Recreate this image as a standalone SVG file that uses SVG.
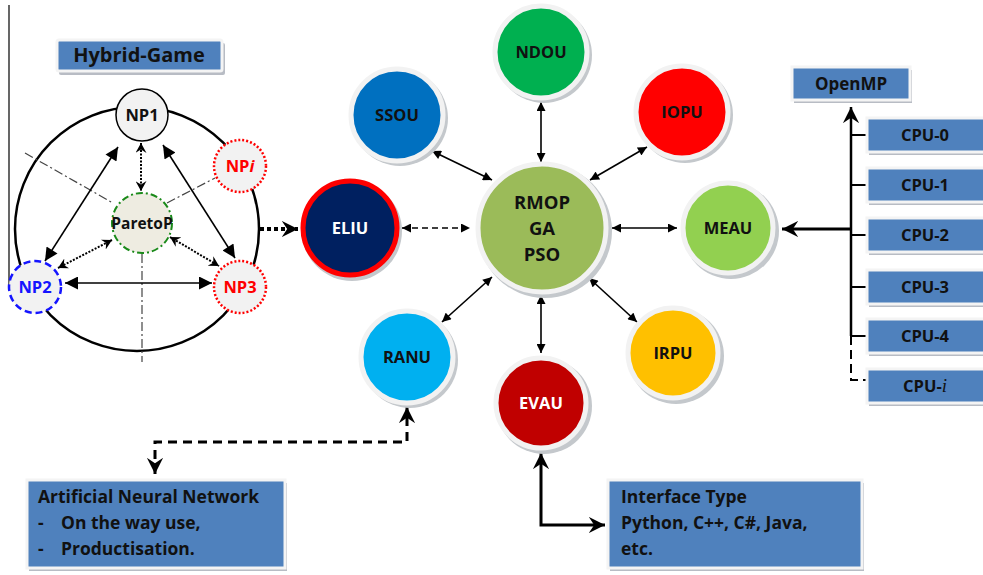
<svg xmlns="http://www.w3.org/2000/svg" width="983" height="575" viewBox="0 0 983 575">
<defs>
<marker id="fa" viewBox="0 0 10 10" refX="10" refY="5" markerWidth="10" markerHeight="9" markerUnits="userSpaceOnUse" orient="auto-start-reverse"><path d="M0,0 L10,5 L0,10 z" fill="#000"/></marker>
<marker id="fb" viewBox="0 0 10 10" refX="10" refY="5" markerWidth="15" markerHeight="13" markerUnits="userSpaceOnUse" orient="auto-start-reverse"><path d="M0,0 L10,5 L0,10 z" fill="#000"/></marker>
<marker id="ov" viewBox="0 0 10 10" refX="9" refY="5" markerWidth="11" markerHeight="11" markerUnits="userSpaceOnUse" orient="auto-start-reverse"><path d="M0,0 L9,5 L0,10 L3,5 z" fill="#000"/></marker>
<marker id="ob" viewBox="0 0 10 10" refX="9" refY="5" markerWidth="18" markerHeight="18" markerUnits="userSpaceOnUse" orient="auto-start-reverse"><path d="M0,0.5 L9,5 L0,9.5 L3,5 z" fill="#000"/></marker>
</defs>
<style>
text{font-family:"Open Sans","Liberation Sans",sans-serif;font-weight:bold;}
.lbl{font-size:16.5px;text-anchor:middle;fill:#111;}
.box{fill:#4F81BD;stroke:#f4f4f4;stroke-width:3;}
.shd{fill:#b8bcc4;}
.ring{stroke:#f2f2f2;stroke-width:5;}
.cshd{fill:#c4c8cc;}
.btx{font-size:17.5px;fill:#111;}
.ln{stroke:#000;stroke-width:1.6;fill:none;}
.np{fill:#f2f2f2;}
.dd{stroke:#444;stroke-width:1.2;stroke-dasharray:9,3,2,3;fill:none;}
</style>
<rect width="983" height="575" fill="#fff"/>
<line x1="9" y1="5" x2="9" y2="290" stroke="#000" stroke-width="1.2"/>

<g id="hybrid-game">
<rect class="shd" x="59" y="43" width="166" height="32" rx="2"/>
<rect class="box" x="57" y="40" width="165" height="31" rx="2"/>
<text x="139" y="62" class="lbl" style="font-size:20px">Hybrid-Game</text>
</g>

<g id="game-circle">
<circle cx="137" cy="229" r="122" fill="none" stroke="#000" stroke-width="2.5"/>
<line class="dd" x1="25" y1="153" x2="113" y2="203"/>
<line class="dd" x1="167" y1="203" x2="215" y2="178"/>
<line class="dd" x1="142" y1="254" x2="142" y2="362"/>
</g>

<g id="connectors-hybrid">
<line class="ln" x1="118" y1="147" x2="45" y2="261" marker-start="url(#fb)" marker-end="url(#fb)"/>
<line class="ln" x1="163" y1="145" x2="235" y2="258" marker-start="url(#fb)" marker-end="url(#fb)"/>
<line class="ln" x1="65" y1="283" x2="212" y2="283" marker-start="url(#fb)" marker-end="url(#fb)"/>
<line x1="141" y1="143" x2="141" y2="191" stroke="#000" stroke-width="2" stroke-dasharray="2,1.5" marker-start="url(#ov)" marker-end="url(#ov)"/>
<line x1="112" y1="240" x2="58" y2="268" stroke="#000" stroke-width="2" stroke-dasharray="2,1.5" marker-start="url(#ov)" marker-end="url(#ov)"/>
<line x1="170" y1="237" x2="219" y2="266" stroke="#000" stroke-width="2" stroke-dasharray="2,1.5" marker-start="url(#ov)" marker-end="url(#ov)"/>
<line x1="260" y1="229" x2="298" y2="229" stroke="#000" stroke-width="4" stroke-dasharray="4,3" marker-end="url(#ob)"/>
</g>

<g id="np1"><circle class="np" cx="142" cy="115" r="26" stroke="#000" stroke-width="1.5"/><text class="lbl" x="142" y="121">NP1</text></g>
<g id="npi"><circle class="np" cx="240" cy="166" r="26" stroke="#f00" stroke-width="2.5" stroke-dasharray="2,2"/><text class="lbl" x="240" y="172" style="fill:#f00">NP<tspan font-style="italic">i</tspan></text></g>
<g id="paretop"><circle cx="142" cy="223" r="30" fill="#EEECE1" stroke="#1a8a1a" stroke-width="2" stroke-dasharray="7,3,2,3"/><text class="lbl" x="142" y="229" style="font-size:15.5px">ParetoP</text></g>
<g id="np2"><circle class="np" cx="35" cy="287" r="26" stroke="#1515ff" stroke-width="2.5" stroke-dasharray="7,4"/><text class="lbl" x="35" y="293" style="fill:#1515ff">NP2</text></g>
<g id="np3"><circle class="np" cx="240" cy="287" r="26" stroke="#f00" stroke-width="2.5" stroke-dasharray="2,2"/><text class="lbl" x="240" y="293" style="fill:#f00">NP3</text></g>

<g id="connectors">
<line class="ln" stroke-width="1.4" x1="432" y1="151" x2="492" y2="180" marker-start="url(#fa)" marker-end="url(#fa)"/>
<line class="ln" stroke-width="1.4" x1="541" y1="102" x2="541" y2="162" marker-start="url(#fa)" marker-end="url(#fa)"/>
<line class="ln" stroke-width="1.4" x1="647" y1="147" x2="590" y2="180" marker-start="url(#fa)" marker-end="url(#fa)"/>
<line class="ln" stroke-width="1.4" x1="402" y1="228" x2="470" y2="228" stroke-dasharray="6,4" marker-start="url(#fa)" marker-end="url(#fa)"/>
<line class="ln" stroke-width="1.4" x1="612" y1="228" x2="677" y2="228" marker-start="url(#fa)" marker-end="url(#fa)"/>
<line class="ln" stroke-width="1.4" x1="492" y1="277" x2="442" y2="322" marker-start="url(#fa)" marker-end="url(#fa)"/>
<line class="ln" stroke-width="1.4" x1="541" y1="295" x2="541" y2="353" marker-start="url(#fa)" marker-end="url(#fa)"/>
<line class="ln" stroke-width="1.4" x1="589" y1="278" x2="637" y2="322" marker-start="url(#fa)" marker-end="url(#fa)"/>
<path d="M851,107 V336" stroke="#000" stroke-width="2.5" fill="none" marker-start="url(#ob)"/>
<path d="M851,336 V380 H866" stroke="#000" stroke-width="2" fill="none" stroke-dasharray="9,5"/>
<path d="M851,135 H866 M851,185 H866 M851,235 H866 M851,287 H866 M851,336 H866" stroke="#000" stroke-width="2" fill="none"/>
<line x1="851" y1="229" x2="782" y2="229" stroke="#000" stroke-width="3" marker-end="url(#ob)"/>
<path d="M155,474 V442 H407 V407" stroke="#000" stroke-width="3" fill="none" stroke-dasharray="9,6" marker-start="url(#ob)" marker-end="url(#ob)"/>
<path d="M541,453 V525 H605" stroke="#000" stroke-width="3" fill="none" marker-start="url(#ob)" marker-end="url(#ob)"/>
</g>

<g id="ndou"><circle class="cshd" cx="544" cy="55" r="48"/><circle class="ring" cx="541" cy="52" r="46" fill="#00B050"/><text class="lbl" x="541" y="58">NDOU</text></g>
<g id="ssou"><circle class="cshd" cx="400" cy="118" r="48"/><circle class="ring" cx="397" cy="115" r="46" fill="#0070C0"/><text class="lbl" x="397" y="121">SSOU</text></g>
<g id="iopu"><circle class="cshd" cx="685" cy="115" r="48"/><circle class="ring" cx="682" cy="112" r="46" fill="#FF0000"/><text class="lbl" x="682" y="118">IOPU</text></g>
<g id="eliu"><circle class="cshd" cx="352" cy="231" r="50"/><circle cx="350" cy="228" r="47" fill="#002060" stroke="#f00" stroke-width="5"/><text class="lbl" x="350" y="234" style="fill:#fff">ELIU</text></g>
<g id="rmop"><circle class="cshd" cx="545" cy="231" r="67"/><circle class="ring" cx="542" cy="228" r="64" fill="#9BBB59"/><text class="lbl" x="542" y="209" style="font-size:18.5px">RMOP</text><text class="lbl" x="542" y="235" style="font-size:18.5px">GA</text><text class="lbl" x="542" y="261" style="font-size:18.5px">PSO</text></g>
<g id="meau"><circle class="cshd" cx="731" cy="231" r="48"/><circle class="ring" cx="728" cy="228" r="45" fill="#92D050"/><text class="lbl" x="728" y="234">MEAU</text></g>
<g id="irpu"><circle class="cshd" cx="676" cy="356" r="48"/><circle class="ring" cx="673" cy="353" r="45" fill="#FFC000"/><text class="lbl" x="673" y="359">IRPU</text></g>
<g id="ranu"><circle class="cshd" cx="410" cy="360" r="48"/><circle class="ring" cx="407" cy="357" r="46" fill="#00B0F0"/><text class="lbl" x="407" y="363">RANU</text></g>
<g id="evau"><circle class="cshd" cx="544" cy="406" r="48"/><circle class="ring" cx="541" cy="403" r="45" fill="#C00000"/><text class="lbl" x="541" y="409" style="fill:#fff">EVAU</text></g>

<g id="openmp"><rect class="shd" x="794" y="70" width="118" height="33"/><rect class="box" x="792" y="67" width="118" height="33"/><text class="lbl" x="851" y="90" style="font-size:17px">OpenMP</text></g>
<g id="cpu-0"><rect class="shd" x="869" y="121" width="120" height="34"/><rect class="box" x="867" y="118" width="120" height="34"/><text class="lbl" x="925" y="141">CPU-0</text></g>
<g id="cpu-1"><rect class="shd" x="869" y="171" width="120" height="34"/><rect class="box" x="867" y="168" width="120" height="34"/><text class="lbl" x="925" y="191">CPU-1</text></g>
<g id="cpu-2"><rect class="shd" x="869" y="221" width="120" height="34"/><rect class="box" x="867" y="218" width="120" height="34"/><text class="lbl" x="925" y="241">CPU-2</text></g>
<g id="cpu-3"><rect class="shd" x="869" y="273" width="120" height="34"/><rect class="box" x="867" y="270" width="120" height="34"/><text class="lbl" x="925" y="293">CPU-3</text></g>
<g id="cpu-4"><rect class="shd" x="869" y="322" width="120" height="34"/><rect class="box" x="867" y="319" width="120" height="34"/><text class="lbl" x="925" y="342">CPU-4</text></g>
<g id="cpu-i"><rect class="shd" x="869" y="372" width="120" height="34"/><rect class="box" x="867" y="369" width="120" height="34"/><text class="lbl" x="925" y="392">CPU-<tspan font-family="Liberation Serif,serif" font-style="italic" font-weight="normal" font-size="19">i</tspan></text></g>

<g id="ann"><rect class="shd" x="29" y="483" width="258" height="88"/><rect class="box" x="27" y="480" width="258" height="88"/>
<text class="btx" x="38" y="503">Artificial Neural Network</text>
<text class="btx" x="38" y="529">-</text><text class="btx" x="61" y="529">On the way use,</text>
<text class="btx" x="38" y="555">-</text><text class="btx" x="61" y="555">Productisation.</text></g>
<g id="interface"><rect class="shd" x="610" y="483" width="254" height="88"/><rect class="box" x="608" y="480" width="254" height="88"/>
<text class="btx" x="621" y="503">Interface Type</text>
<text class="btx" x="621" y="529">Python, C++, C#, Java,</text>
<text class="btx" x="621" y="555">etc.</text></g>
</svg>
